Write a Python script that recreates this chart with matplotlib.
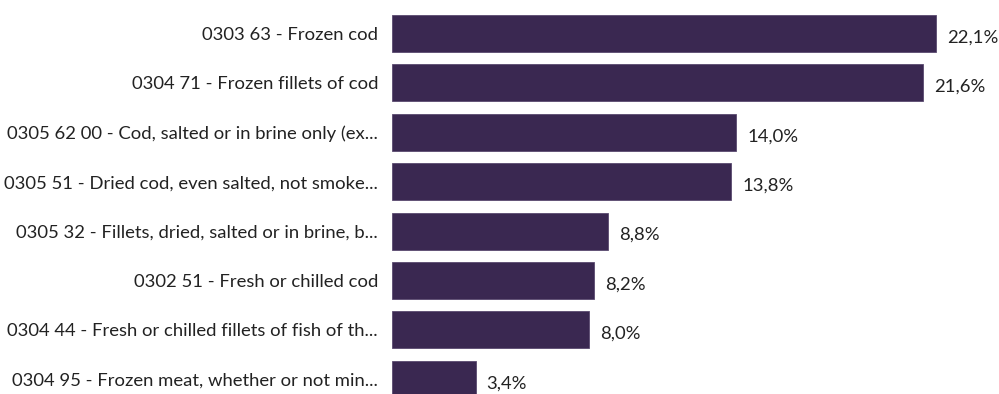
import matplotlib.pyplot as plt

categories = [
    "0303 63 - Frozen cod",
    "0304 71 - Frozen fillets of cod",
    "0305 62 00 - Cod, salted or in brine only (ex...",
    "0305 51 - Dried cod, even salted, not smoke...",
    "0305 32 - Fillets, dried, salted or in brine, b...",
    "0302 51 - Fresh or chilled cod",
    "0304 44 - Fresh or chilled fillets of fish of th...",
    "0304 95 - Frozen meat, whether or not min...",
]
shares = [22.1, 21.6, 14.0, 13.8, 8.8, 8.2, 8.0, 3.4]

plt.rcParams['font.family'] = ['Lato', 'DejaVu Sans']

fig = plt.figure(figsize=(9.99, 3.94), dpi=100)
ax = fig.add_axes([392 / 999, 0, 607 / 999, 1])

pos = list(range(len(categories)))
ax.barh(pos, shares, height=0.75, color='#3a2851', edgecolor='#5a4a70', linewidth=0.6)

ax.set_xlim(0, 607 / 24.6)
ax.set_ylim((394 - 33.5) / 49.4, -33.5 / 49.4)

for i, (name, v) in enumerate(zip(categories, shares)):
    ax.text(-14 / 24.6, i + 0.03, name, ha='right', va='center',
            fontsize=13.3, color='#222222')
    ax.text(v + 11 / 24.6, i + 0.08, f"{v:.1f}%".replace('.', ','),
            ha='left', va='center', fontsize=13.3, color='#222222')

ax.axis('off')
fig.savefig('out.png', dpi=100)
